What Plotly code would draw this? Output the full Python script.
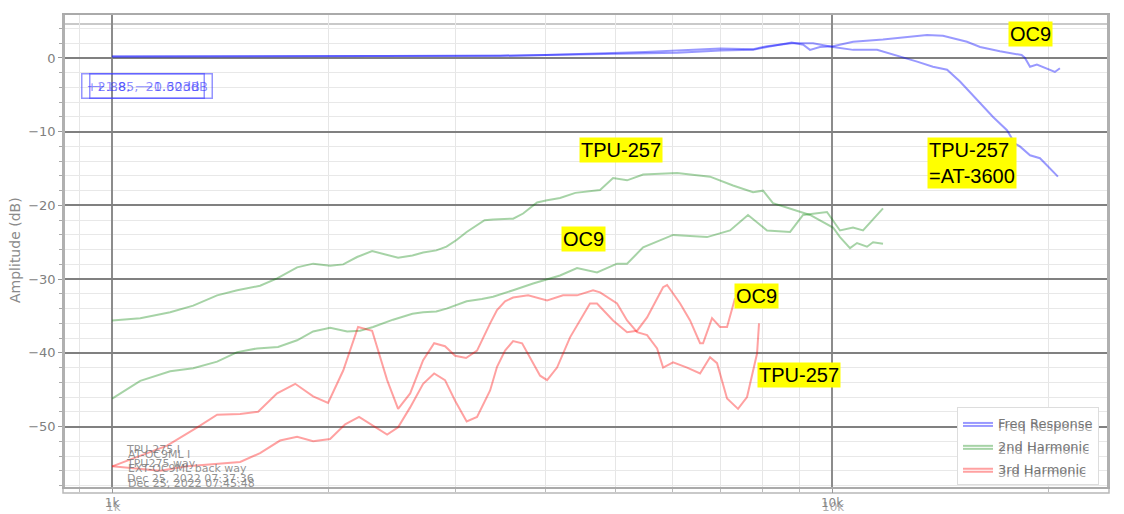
import numpy as np
import plotly.graph_objects as go

# ── data ──
fr_oc9_hz = [1000, 1500, 2000, 3000, 3460, 4000, 4800, 5500, 6100, 7000, 7770, 8120,
             8790, 9120, 9320, 9620, 10030, 10700, 11770, 13550, 14260, 15400, 16060,
             17110, 18340, 18540, 18840, 19260, 19630, 20400, 20730]
fr_oc9_db = [0.2, 0.2, 0.2, 0.2, 0.3, 0.4, 0.5, 0.6, 0.7, 1.0, 1.1, 1.5,
             2.1, 1.8, 1.1, 1.5, 1.6, 2.2, 2.5, 3.1, 3.0, 2.2, 1.5,
             0.9, 0.4, 0.0, -1.2, -0.9, -1.2, -1.9, -1.4]

fr_tpu_hz = [1000, 1500, 2000, 3000, 3460, 4000, 4800, 5500, 6100, 7000, 7770, 8120,
             8790, 9410, 10030, 10700, 11550, 12430, 13130, 13810, 14450, 15060,
             15900, 16740, 17500, 17950, 18240, 18840, 19450, 20600]
fr_tpu_db = [0.2, 0.2, 0.2, 0.2, 0.3, 0.4, 0.6, 0.8, 1.0, 1.3, 1.2, 1.6,
             2.0, 2.0, 1.5, 1.1, 1.1, 0.2, -0.5, -1.2, -1.6, -3.2,
             -5.7, -8.0, -9.8, -11.6, -12.0, -13.2, -13.6, -16.1]

h2_tpu_hz = [1000, 1094, 1204, 1296, 1399, 1492, 1605, 1695, 1807, 1902, 2008, 2094,
             2189, 2297, 2496, 2613, 2704, 2820, 2914, 3009, 3108, 3213, 3291, 3382,
             3606, 3723, 3893, 4020, 4190, 4400, 4762, 4964, 5192, 5465, 6093, 6770,
             7286, 7768, 8020, 8280, 9029, 9322, 10032, 10259, 10593, 10833, 11184,
             11403, 11772]
h2_tpu_db = [-35.6, -35.3, -34.5, -33.6, -32.2, -31.5, -30.9, -29.9, -28.4, -27.9, -28.2, -28.0,
             -27.0, -26.2, -27.1, -26.8, -26.4, -26.1, -25.6, -24.7, -23.6, -22.7, -22.0, -21.9,
             -21.8, -21.1, -19.6, -19.3, -19.0, -18.3, -17.9, -16.3, -16.6, -15.8, -15.6, -16.1,
             -17.3, -18.2, -18.0, -19.7, -20.9, -21.3, -23.0, -24.3, -25.8, -25.1, -25.6,
             -25.0, -25.2]

h2_oc9_hz = [1000, 1094, 1204, 1296, 1399, 1492, 1590, 1700, 1807, 1902, 2008, 2121,
             2210, 2304, 2456, 2613, 2704, 2820, 2914, 3108, 3263, 3382, 3606, 3844,
             4190, 4424, 4716, 5028, 5192, 5465, 6015, 6705, 7217, 7644, 8123, 8745,
             9116, 9841, 10259, 10695, 11043, 11772]
h2_oc9_db = [-46.2, -43.8, -42.5, -42.1, -41.2, -39.9, -39.4, -39.2, -38.3, -37.1, -36.6, -37.1,
             -37.0, -36.5, -35.5, -34.7, -34.5, -34.4, -34.0, -33.0, -32.7, -32.4, -31.5, -30.6,
             -29.5, -28.5, -29.1, -27.9, -27.9, -25.7, -24.0, -24.3, -23.4, -21.3, -23.4, -23.6,
             -21.3, -20.9, -23.4, -23.0, -23.4, -20.4]

h3_tpu_hz = [1000, 1192, 1313, 1399, 1506, 1595, 1695, 1796, 1902, 1995, 2094, 2196,
             2297, 2410, 2496, 2594, 2704, 2801, 2900, 2995, 3102, 3213, 3350, 3425,
             3514, 3606, 3783, 3931, 4020, 4230, 4424, 4656, 4762, 5028, 5192, 5361,
             5535, 5715, 5826, 6015, 6291, 6557, 6770, 6923, 7148, 7404, 7620, 7868, 7918]
h3_tpu_db = [-55.4, -52.6, -50.1, -48.4, -48.3, -48.0, -45.5, -44.2, -45.9, -46.8, -42.4, -36.5,
             -37.0, -43.7, -47.6, -45.5, -41.0, -38.7, -39.1, -40.4, -40.7, -39.7, -36.0, -34.2,
             -33.0, -32.5, -32.2, -32.6, -32.9, -32.2, -32.2, -31.5, -31.8, -33.3, -35.6, -37.2,
             -37.6, -39.4, -42.0, -41.3, -42.0, -42.8, -40.6, -41.4, -46.2, -47.6, -46.0, -40.1, -36.0]

h3_oc9_hz = [1000, 1166, 1271, 1506, 1605, 1711, 1807, 1902, 2008, 2107, 2203, 2304,
             2410, 2496, 2594, 2704, 2801, 2900, 2995, 3108, 3213, 3350, 3425, 3514,
             3606, 3711, 3807, 3931, 4020, 4150, 4326, 4611, 4716, 4964, 5192, 5361,
             5535, 5826, 5901, 6152, 6351, 6557, 6620, 6813, 6990, 7148, 7333]
h3_oc9_db = [-55.4, -56.0, -55.4, -54.8, -53.6, -51.9, -51.4, -52.0, -51.7, -49.7, -48.7, -49.9,
             -51.1, -50.1, -47.4, -44.2, -42.8, -43.7, -46.5, -49.3, -48.7, -45.1, -41.9, -39.7,
             -38.4, -38.7, -40.6, -43.1, -43.7, -42.0, -37.9, -33.3, -33.3, -35.6, -37.2, -37.0,
             -35.2, -31.1, -30.8, -33.3, -35.6, -38.7, -38.7, -35.3, -36.5, -36.5, -32.6]

x_tick_vals = [1000, 10000]
x_tick_text = ["1k", "10k"]
x_minor_vals = [900, 2000, 3000, 4000, 5000, 6000, 7000, 8000, 9000, 20000]

# ── page / plot-area geometry (page pixels; the html body adds an 8px margin) ──
W, H, BODY = 1124, 514, 8
PL, PR, PT, PB = 65, 1107, 15, 487


def px(x):
    return (x - PL) / (PR - PL)


def py(y):
    return (PB - y) / (PB - PT)


BLUE = "rgba(0,0,255,0.40)"
GREEN = "rgba(0,128,0,0.35)"
RED = "rgba(255,0,0,0.37)"

fig = go.Figure()

series = [
    (fr_oc9_hz, fr_oc9_db, BLUE, "Freq Response", "legend"),
    (h2_oc9_hz, h2_oc9_db, GREEN, "2nd Harmonic", "legend"),
    (h3_oc9_hz, h3_oc9_db, RED, "3rd Harmonic", "legend"),
    (fr_tpu_hz, fr_tpu_db, BLUE, "Freq Response", "legend2"),
    (h2_tpu_hz, h2_tpu_db, GREEN, "2nd Harmonic", "legend2"),
    (h3_tpu_hz, h3_tpu_db, RED, "3rd Harmonic", "legend2"),
]
for xs, ys, col, name, leg in series:
    fig.add_trace(go.Scatter(
        x=xs, y=ys, mode="lines", name=name, legend=leg, legendgroup=leg + name,
        line=dict(color=col, width=2),
    ))

# ── yellow call-out labels ──
label_font = dict(family="Liberation Sans, Arial, sans-serif", size=20, color="black")
labels = [
    ("OC9", 1030, 34),
    ("TPU-257", 621, 150),
    ("OC9", 583, 239),
    ("OC9", 756, 296),
    ("TPU-257", 799, 375),
]
annotations = []
for txt, lx, ly in labels:
    annotations.append(dict(
        x=px(lx), y=py(ly), xref="paper", yref="paper", text=txt, showarrow=False,
        font=label_font, bgcolor="#ffff00", borderpad=1, xanchor="center", yanchor="middle",
    ))
annotations.append(dict(
    x=px(927), y=py(137), xref="paper", yref="paper", text="TPU-257<br>=AT-3600",
    showarrow=False, font=label_font, bgcolor="#ffff00", borderpad=1, align="left",
    xanchor="left", yanchor="top",
))

# cursor read-outs (two overlapped screenshots)
cursor_font = dict(family="DejaVu Sans", size=13, color="rgba(40,40,255,0.55)")
for txt, cx in [("+2.88, −20.32dB", 143), ("+1.85, −1.603dB", 151)]:
    annotations.append(dict(
        x=px(cx), y=py(86), xref="paper", yref="paper", text=txt, showarrow=False,
        font=cursor_font, bordercolor="rgba(60,60,255,0.55)", borderwidth=1.5, borderpad=4,
        bgcolor="rgba(255,255,255,0)", xanchor="center", yanchor="middle",
    ))

# measurement notes, bottom-left
note_font = dict(family="DejaVu Sans", size=11, color="rgba(110,110,110,0.75)")
for txt, nx, ny in [("TPU-275 I<br>TPU275 way<br>Dec 25, 2022 07:37:36", 124, 441),
                    ("AT-OC9ML I<br>EXT-OC9ML back way<br>Dec 25, 2022 07:45:48", 126, 446)]:
    annotations.append(dict(
        x=px(nx), y=py(ny), xref="paper", yref="paper", text=txt, showarrow=False,
        font=note_font, align="left", xanchor="left", yanchor="top",
    ))

# ghost copies of the x tick labels
for v, t in zip(x_tick_vals, x_tick_text):
    annotations.append(dict(
        x=np.log10(v) + 0.002, y=py(507), xref="x", yref="paper", text=t, showarrow=False,
        font=dict(family="DejaVu Sans", size=12, color="rgba(120,120,120,0.6)"),
        xanchor="center", yanchor="middle",
    ))

# y-axis title
annotations.append(dict(
    x=px(15), y=py(250), xref="paper", yref="paper", text="Amplitude (dB)", showarrow=False,
    textangle=-90, font=dict(family="DejaVu Sans", size=14, color="#8a8a8a"),
    xanchor="center", yanchor="middle",
))

fig.update_layout(
    width=W - BODY, height=H - BODY,
    margin=dict(l=PL - BODY, r=W - PR, t=PT - BODY, b=H - PB, autoexpand=False),
    plot_bgcolor="white", paper_bgcolor="white",
    font=dict(family="DejaVu Sans", color="#808080"),
    legend=dict(
        x=px(957), y=py(485), xanchor="left", yanchor="bottom",
        bgcolor="white", bordercolor="#dddddd", borderwidth=1,
        font=dict(size=13, color="#7a7a7a"), itemwidth=30, tracegroupgap=3,
    ),
    legend2=dict(
        x=px(958), y=py(487), xanchor="left", yanchor="bottom",
        bgcolor="rgba(0,0,0,0)", borderwidth=0,
        font=dict(size=13, color="rgba(110,110,110,0.6)"), itemwidth=30, tracegroupgap=3,
    ),
    annotations=annotations,
    shapes=[dict(
        type="rect", xref="paper", yref="paper",
        x0=px(63), x1=px(1109), y0=py(493), y1=py(24),
        line=dict(color="#b8b8b8", width=1.5), fillcolor="rgba(0,0,0,0)", layer="below",
    )],
)

fig.update_xaxes(
    type="log", range=[np.log10(860), np.log10(24100)], automargin=False,
    tickvals=x_tick_vals, ticktext=x_tick_text,
    tickfont=dict(size=12, color="#888888"),
    showgrid=True, gridcolor="#8c8c8c", gridwidth=1.5,
    ticks="outside", ticklen=4, tickcolor="#999999",
    minor=dict(tickvals=x_minor_vals, showgrid=True, gridcolor="#e6e6e6", gridwidth=1,
               ticks="outside", ticklen=3, tickcolor="#bbbbbb"),
    showline=True, linecolor="#aaaaaa", linewidth=1.5, mirror=True,
    zeroline=False,
)
fig.update_yaxes(
    range=[-58.2, 5.83], dtick=10, tick0=0, automargin=False,
    tickfont=dict(size=13, color="#808080"),
    showgrid=True, gridcolor="#808080", gridwidth=1.5,
    ticks="outside", ticklen=4, tickcolor="#999999",
    minor=dict(dtick=2, showgrid=True, gridcolor="#e8e8e8", gridwidth=1,
               ticks="outside", ticklen=3, tickcolor="#aaaaaa"),
    showline=True, linecolor="#b0b0b0", linewidth=2.5, mirror=True,
    zeroline=False,
)

fig.write_html("out.html")
